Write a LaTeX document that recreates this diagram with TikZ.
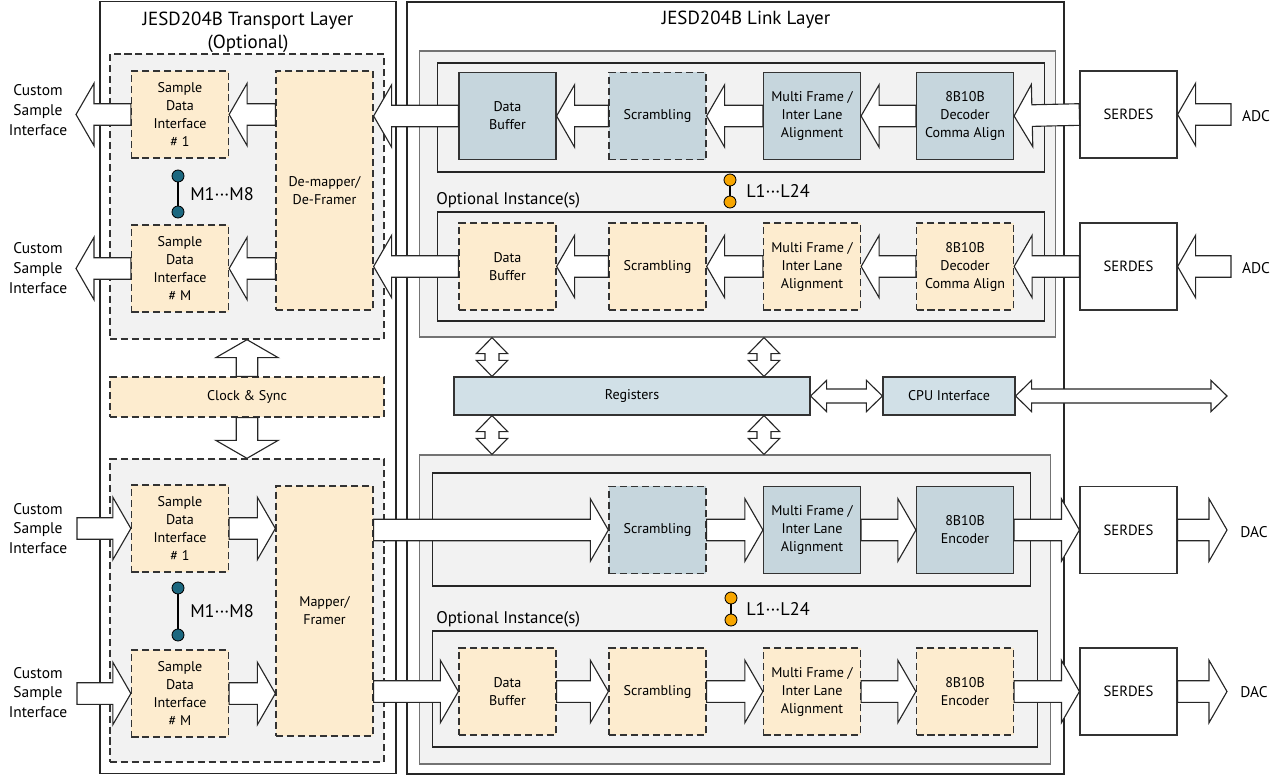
\documentclass[tikz,border=0pt]{standalone}
\usepackage{fontspec}
\setmainfont{PT Sans}
\usetikzlibrary{calc}

\definecolor{optyel}{RGB}{253,236,207}
\definecolor{lkblue}{RGB}{198,214,221}
\definecolor{regblue}{RGB}{209,224,231}
\definecolor{bggray}{RGB}{242,242,242}
\definecolor{teal}{RGB}{28,104,128}
\definecolor{amber}{RGB}{247,166,0}

\tikzset{
  fatline/.style={draw=black!85, fill=white, line width=0.8pt, line join=miter},
  layerbox/.style={draw=black!85, line width=0.8pt, minimum width=1pt},
  tpgroup/.style={draw=black!80, fill=bggray, line width=0.9pt, dash pattern=on 5pt off 2.8pt},
  lkregion/.style={draw=black!55, fill=bggray, line width=0.8pt},
  lkinst/.style={draw=black!85, fill=bggray, line width=0.8pt},
  blk/.style={line width=0.8pt, draw=black!80, align=center, inner sep=1pt,
    minimum width=2.425cm, minimum height=2.175cm, font=\fontsize{10}{12.8}\selectfont},
  bluebox/.style={blk, fill=lkblue},
  bluedash/.style={blk, fill=lkblue, line width=0.9pt, dash pattern=on 5pt off 2.8pt},
  yeldash/.style={blk, fill=optyel, line width=0.9pt, dash pattern=on 5pt off 2.8pt},
  serbox/.style={blk, fill=white, font=\fontsize{10.5}{12.8}\selectfont},
  slimbox/.style={line width=0.8pt, draw=black!80, minimum height=0.95cm, font=\fontsize{10}{12}\selectfont},
  titletext/.style={align=center, font=\fontsize{13.5}{16.5}\selectfont},
  sidetext/.style={align=center, font=\fontsize{11}{14}\selectfont},
  dotlabel/.style={anchor=west, inner sep=0pt, font=\fontsize{13}{15}\selectfont},
  mdot/.style={circle, draw=black, line width=0.6pt, fill=teal, minimum size=0.3cm, inner sep=0pt},
  ldot/.style={circle, draw=black, line width=0.6pt, fill=amber, minimum size=0.3cm, inner sep=0pt}
}

\newcommand{\fatarrow}[2]{%
  \coordinate (fas) at (#1);
  \coordinate (fae) at (#2);
  \coordinate (fah) at ($(fae)!0.45cm!(fas)$);
  \draw[fatline] ($(fas)!0.27cm!90:(fae)$) -- ($(fah)!0.27cm!90:(fae)$)
    -- ($(fah)!0.78cm!90:(fae)$) -- (fae) -- ($(fah)!0.78cm!-90:(fae)$)
    -- ($(fah)!0.27cm!-90:(fae)$) -- ($(fas)!0.27cm!-90:(fae)$) -- cycle;
}
\newcommand{\fatdouble}[2]{%
  \coordinate (fds) at (#1);
  \coordinate (fde) at (#2);
  \coordinate (fdh) at ($(fds)!0.4cm!(fde)$);
  \coordinate (fdk) at ($(fde)!0.4cm!(fds)$);
  \draw[fatline] (fds) -- ($(fdh)!0.39cm!90:(fde)$) -- ($(fdh)!0.175cm!90:(fde)$)
    -- ($(fdk)!0.175cm!90:(fde)$) -- ($(fdk)!0.39cm!90:(fde)$) -- (fde)
    -- ($(fdk)!0.39cm!-90:(fde)$) -- ($(fdk)!0.175cm!-90:(fde)$)
    -- ($(fdh)!0.175cm!-90:(fde)$) -- ($(fdh)!0.39cm!-90:(fde)$) -- cycle;
}

\begin{document}
\begin{tikzpicture}[x=0.025cm, y=-0.025cm]
  \useasboundingbox (0,0) rectangle (1280,776);

  % layers
  \node[layerbox, minimum width=7.4cm, minimum height=19.275cm] (tl) at (248,387.5) {};
  \node[layerbox, line width=1.5pt, minimum width=16.425cm, minimum height=19.3cm] (ll) at (735.5,388) {};
  \node[titletext] (tltitle) at (248,32) {JESD204B Transport Layer\\(Optional)};
  \node[titletext] (lltitle) at (746,20) {JESD204B Link Layer};

  % transport layer
  \node[tpgroup, minimum width=6.85cm, minimum height=7.125cm] (tpup) at (247,196.5) {};
  \node[tpgroup, minimum width=6.85cm, minimum height=7.575cm] (tplo) at (247,610.5) {};
  \node[yeldash, minimum width=6.85cm, minimum height=1cm] (clk) at (247,397) {Clock \& Sync};

  \node[yeldash] (sdiA) at (180,114.5) {Sample\\Data\\Interface\\\# 1};
  \node[yeldash] (sdiB) at (180,268.5) {Sample\\Data\\Interface\\\# M};
  \node[yeldash] (sdiC) at (180,528.5) {Sample\\Data\\Interface\\\# 1};
  \node[yeldash] (sdiD) at (180,693.5) {Sample\\Data\\Interface\\\# M};
  \node[yeldash, minimum height=5.975cm] (dm) at (324.5,190.5) {De-mapper/\\De-Framer};
  \node[yeldash, minimum height=6.25cm] (mp) at (324.5,611) {Mapper/\\Framer};

  \node[mdot] (mA1) at (178,176) {};
  \node[mdot] (mA2) at (178,212) {};
  \draw[line width=0.8pt] (mA1) -- (mA2);
  \node[dotlabel] (mAlbl) at (190,194) {M1···M8};
  \node[mdot] (mB1) at (178,588) {};
  \node[mdot] (mB2) at (178,635) {};
  \draw[line width=0.8pt] (mB1) -- (mB2);
  \node[dotlabel] (mBlbl) at (190,611) {M1···M8};

  \node[sidetext] (csiA) at (38,110) {Custom\\Sample\\Interface};
  \node[sidetext] (csiB) at (38,268) {Custom\\Sample\\Interface};
  \node[sidetext] (csiC) at (38,528.5) {Custom\\Sample\\Interface};
  \node[sidetext] (csiD) at (38,692.5) {Custom\\Sample\\Interface};
  \coordinate (csA) at (76,114.5);
  \coordinate (csB) at (76,268.5);
  \coordinate (csC) at (77,528.5);
  \coordinate (csD) at (77,693.5);

  % link layer
  \node[lkregion, minimum width=15.875cm, minimum height=7.15cm] (lkup) at (737.5,194) {};
  \node[lkregion, minimum width=15.75cm, minimum height=7.725cm] (lklo) at (735,609.5) {};
  \node[lkinst, minimum width=15.15cm, minimum height=2.725cm] (instA) at (741,117.5) {};
  \node[lkinst, minimum width=15.15cm, minimum height=2.725cm] (instB) at (741,266.5) {};
  \node[lkinst, minimum width=14.925cm, minimum height=2.825cm] (instC) at (731.5,529.5) {};
  \node[lkinst, minimum width=15.1cm, minimum height=2.9cm] (instD) at (735,689) {};
  \node[anchor=west, inner sep=0pt, font=\fontsize{12}{14}\selectfont] (optB) at (436,200) {Optional Instance(s)};
  \node[anchor=west, inner sep=0pt, font=\fontsize{12}{14}\selectfont] (optD) at (436,619) {Optional Instance(s)};

  \node[bluebox] (dbA) at (507.5,116) {Data\\Buffer};
  \node[bluedash] (scA) at (657.5,116) {Scrambling};
  \node[bluebox] (mfA) at (812,116) {Multi Frame /\\Inter Lane\\Alignment};
  \node[bluebox] (decA) at (965,116) {8B10B\\Decoder\\Comma Align};
  \node[serbox] (serA) at (1128.5,114.5) {SERDES};

  \node[yeldash] (dbB) at (507.5,266.5) {Data\\Buffer};
  \node[yeldash] (scB) at (657.5,266.5) {Scrambling};
  \node[yeldash] (mfB) at (812,266.5) {Multi Frame /\\Inter Lane\\Alignment};
  \node[yeldash] (decB) at (965,266.5) {8B10B\\Decoder\\Comma Align};
  \node[serbox] (serB) at (1128.5,266.5) {SERDES};

  \node[bluedash] (scC) at (657.5,530) {Scrambling};
  \node[bluebox] (mfC) at (812,530) {Multi Frame /\\Inter Lane\\Alignment};
  \node[bluebox] (encC) at (965,530) {8B10B\\Encoder};
  \node[serbox] (serC) at (1128.5,530) {SERDES};

  \node[yeldash] (dbD) at (507.5,691.5) {Data\\Buffer};
  \node[yeldash] (scD) at (657.5,691.5) {Scrambling};
  \node[yeldash] (mfD) at (812,691.5) {Multi Frame /\\Inter Lane\\Alignment};
  \node[yeldash] (encD) at (965,691.5) {8B10B\\Encoder};
  \node[serbox] (serD) at (1128.5,691.5) {SERDES};

  \node[ldot] (lA1) at (730,180) {};
  \node[ldot] (lA2) at (730,202) {};
  \draw[line width=0.8pt] (lA1) -- (lA2);
  \node[dotlabel] (lAlbl) at (746,191) {L1···L24};
  \node[ldot] (lB1) at (731,598) {};
  \node[ldot] (lB2) at (731,620) {};
  \draw[line width=0.8pt] (lB1) -- (lB2);
  \node[dotlabel] (lBlbl) at (746,609) {L1···L24};

  \node[slimbox, fill=regblue, minimum width=8.9cm] (reg) at (632,396) {Registers};
  \node[slimbox, fill=regblue, minimum width=3.3cm] (cpu) at (949,396) {CPU Interface};

  \node[sidetext] (adcA) at (1256,116) {ADC};
  \node[sidetext] (adcB) at (1256,268) {ADC};
  \node[sidetext] (dacC) at (1254,532) {DAC};
  \node[sidetext] (dacD) at (1254,692) {DAC};
  \coordinate (adcAin) at (1231,114.5);
  \coordinate (adcBin) at (1231,266.5);
  \coordinate (dacCout) at (1227,530);
  \coordinate (dacDout) at (1227,691.5);
  \coordinate (cpuext) at (1227,396);
  \coordinate (busL) at (492,0);
  \coordinate (busR) at (764,0);

  % arrows, receive side
  \fatarrow{sdiA.west}{csA}
  \fatarrow{sdiB.west}{csB}
  \fatarrow{dm.west |- sdiA.east}{sdiA.east}
  \fatarrow{dm.west |- sdiB.east}{sdiB.east}
  \fatarrow{dbA.west}{dbA.west -| dm.east}
  \fatarrow{dbB.west}{dbB.west -| dm.east}
  \fatarrow{scA.west}{dbA.east}
  \fatarrow{mfA.west}{scA.east}
  \fatarrow{decA.west}{mfA.east}
  \fatarrow{serA.west}{decA.east}
  \fatarrow{adcAin}{serA.east}
  \fatarrow{scB.west}{dbB.east}
  \fatarrow{mfB.west}{scB.east}
  \fatarrow{decB.west}{mfB.east}
  \fatarrow{serB.west}{decB.east}
  \fatarrow{adcBin}{serB.east}

  % clock and registers
  \fatarrow{clk.north}{clk.north |- tpup.south}
  \fatarrow{clk.south}{clk.south |- tplo.north}
  \fatdouble{lkup.south -| busL}{reg.north -| busL}
  \fatdouble{lkup.south -| busR}{reg.north -| busR}
  \fatdouble{reg.south -| busL}{lklo.north -| busL}
  \fatdouble{reg.south -| busR}{lklo.north -| busR}
  \fatdouble{reg.east}{cpu.west}
  \fatdouble{cpu.east}{cpuext}

  % arrows, transmit side
  \fatarrow{csC}{sdiC.west}
  \fatarrow{csD}{sdiD.west}
  \fatarrow{sdiC.east}{sdiC.east -| mp.west}
  \fatarrow{sdiD.east}{sdiD.east -| mp.west}
  \fatarrow{mp.east |- scC.west}{scC.west}
  \fatarrow{mp.east |- dbD.west}{dbD.west}
  \fatarrow{scC.east}{mfC.west}
  \fatarrow{mfC.east}{encC.west}
  \fatarrow{encC.east}{serC.west}
  \fatarrow{serC.east}{dacCout}
  \fatarrow{dbD.east}{scD.west}
  \fatarrow{scD.east}{mfD.west}
  \fatarrow{mfD.east}{encD.west}
  \fatarrow{encD.east}{serD.west}
  \fatarrow{serD.east}{dacDout}
\end{tikzpicture}
\end{document}
